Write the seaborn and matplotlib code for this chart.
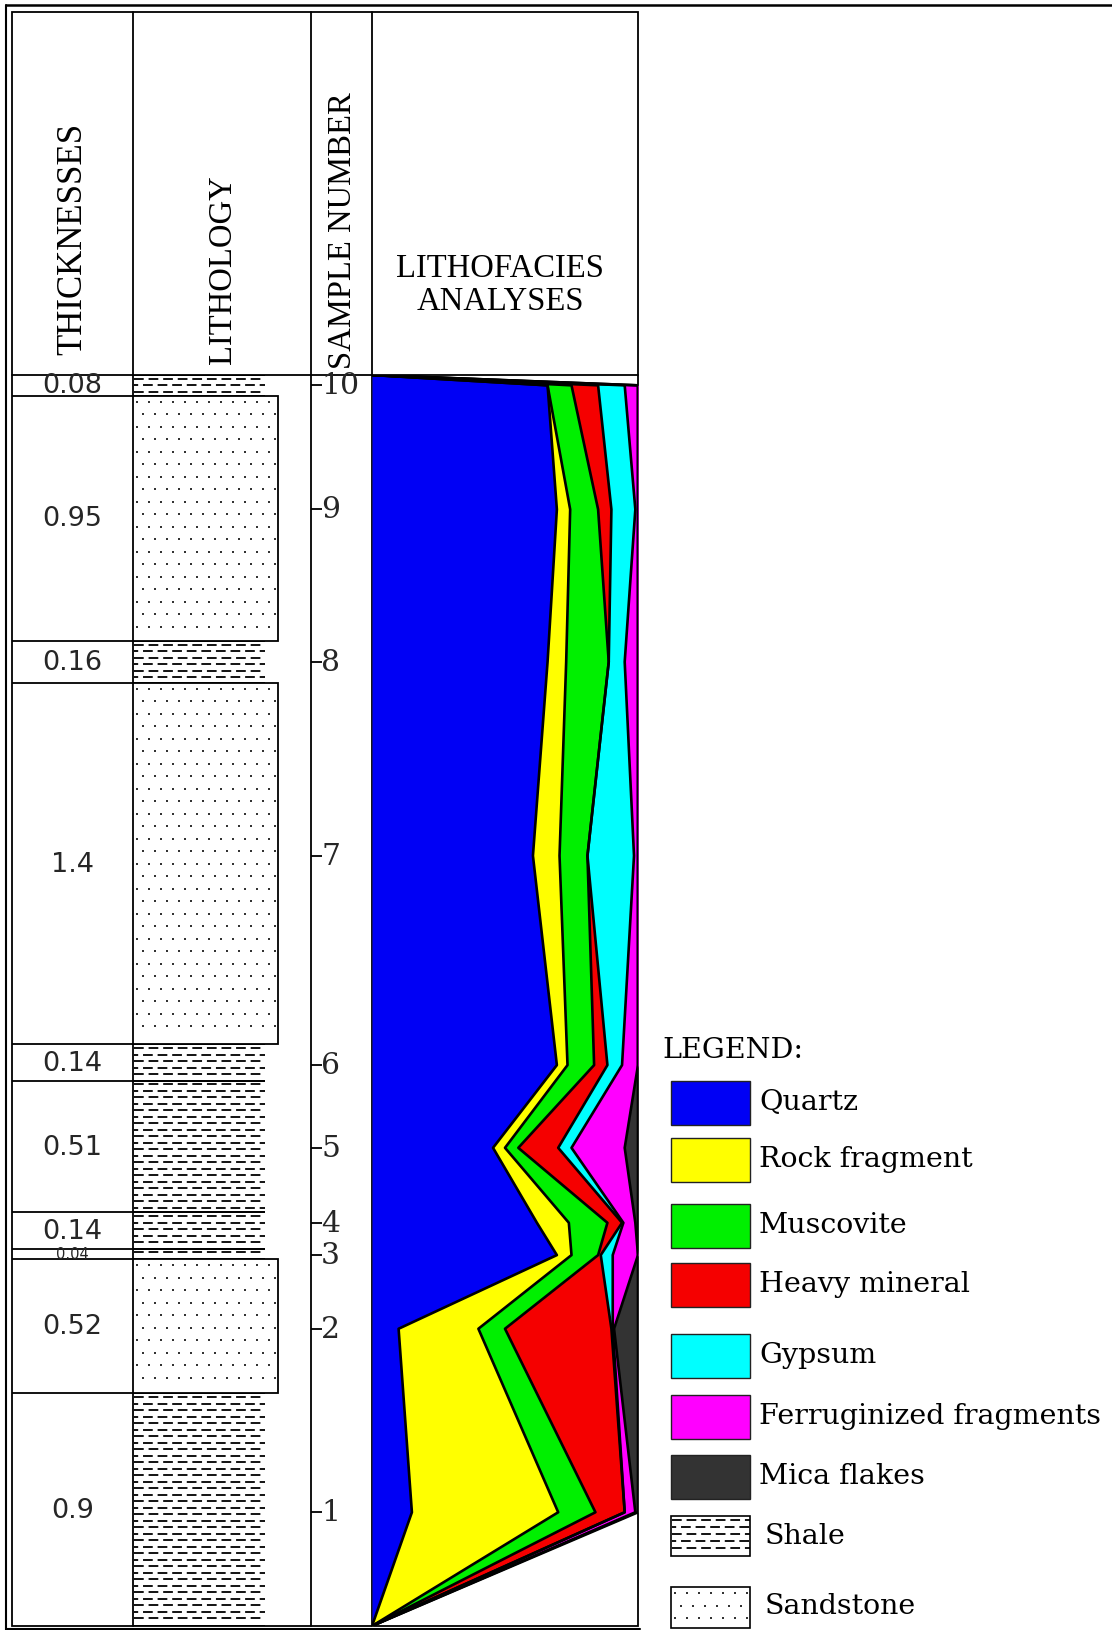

# Литологическая колонка с диаграммой литофаций (stacked area по образцам)

import numpy as np
import pandas as pd
import matplotlib
matplotlib.use("Agg")
import matplotlib.pyplot as plt
from matplotlib.patches import Rectangle
import seaborn as sns

# Мощности слоёв (сверху вниз), подписи и литология
thicknesses = [0.08, 0.95, 0.16, 1.4, 0.14, 0.51, 0.14, 0.04, 0.52, 0.9]
thickness_labels = ['0.08', '0.95', '0.16', '1.4', '0.14', '0.51', '0.14', '0.04', '0.52', '0.9']
lithology = ['Shale', 'Sandstone', 'Shale', 'Sandstone', 'Shale',
             'Shale', 'Shale', 'Shale', 'Sandstone', 'Shale']

# Номера образцов и их глубина от кровли разреза, м
sample_numbers = [10, 9, 8, 7, 6, 5, 4, 3, 2, 1]
sample_depth = [0.04, 0.52, 1.11, 1.86, 2.67, 2.99, 3.28, 3.405, 3.69, 4.40]

# Состав образцов, % (образцы 10 ... 1, сверху вниз)
quartz        = [66, 69.5, 66, 60.5, 69.5, 45.5, 62, 69.5, 10, 15]
rock_fragment = [0, 5, 7, 10, 4, 4.5, 12, 5.5, 30, 55]
muscovite     = [9, 10.5, 16, 10.5, 10, 5, 14.5, 10, 10, 14]
heavy_mineral = [10, 5, 0, 0, 5, 15, 5.5, 1, 40, 11]
gypsum        = [10, 9, 6, 17.5, 5.5, 5, 0.5, 4.5, 0.5, 0]
ferruginized  = [5, 1, 5, 1.5, 6, 20, 4.5, 9.5, 0.5, 4]
mica_flakes   = [0, 0, 0, 0, 0, 5, 1, 0, 9, 1]

components = ['Quartz', 'Rock fragment', 'Muscovite', 'Heavy mineral',
              'Gypsum', 'Ferruginized fragments', 'Mica flakes']
colors = ['#0000f5', '#ffff00', '#00f000', '#f50000', '#00ffff', '#ff00ff', '#333333']

W, H = 1112, 1631
TOP, BOTTOM = 376, 1627  # верх и низ колонки, px

sns.set_theme(style="white")
plt.rcParams['font.family'] = ['DejaVu Serif']
plt.rcParams['lines.scale_dashes'] = False

fig = plt.figure(figsize=(W / 100, H / 100), dpi=100)


def px_axes(x0, x1, y0, y1):
    ax = fig.add_axes([x0 / W, 1 - y1 / H, (x1 - x0) / W, (y1 - y0) / H])
    ax.set_facecolor('none')
    ax.set_axis_off()
    return ax


# Фоновые оси в пикселях: рамки, заголовки, легенда
bg = px_axes(0, W, 0, H)
bg.set_xlim(0, W)
bg.set_ylim(H, 0)

edges = np.concatenate([[0], np.cumsum(thicknesses)])
total = edges[-1]
layer_mid = (edges[:-1] + edges[1:]) / 2
py = total / (BOTTOM - TOP)  # глубина на 1 px


def sand_dots(ax, x0, x1, y0, y1, sy, step=12.5):
    n = int((y1 - y0) / sy / step)
    for i in range(n):
        yy = y0 + (i * step + step / 2) * sy
        xs = np.arange(x0 + 4 + (i % 2) * 6, x1 - 2, 12)
        ax.scatter(xs, np.full(len(xs), yy), s=3, marker='s', color='#333333', linewidths=0, zorder=3)


def shale_dashes(ax, x0, x1, y0, y1, sy, step=6.5):
    n = int((y1 - y0) / sy / step)
    for i in range(n):
        yy = y0 + (i * step + step / 2 + 0.5) * sy
        ax.hlines(yy, x0 + 1, x1, color='black', lw=1.3,
                  linestyles=[((i % 2) * 4, (7, 3.5))], zorder=3)


# Рамки
lw = 1.3
bg.plot([6, W], [6, 6], color='black', lw=1.8)
bg.plot([6, 6], [6, H], color='black', lw=1.5)
bg.plot([6, 640], [1630, 1630], color='black', lw=1.5)
bg.add_patch(Rectangle((12, 13), 626, BOTTOM - 13, fill=False, ec='black', lw=lw))
bg.plot([12, 638], [TOP, TOP], color='black', lw=lw)
for x in [133, 311, 372]:
    bg.plot([x, x], [13, BOTTOM], color='black', lw=lw)

# Заголовки колонок
hdr = dict(family=['Liberation Serif'], fontsize=23.5, color='black')
bg.text(73, 355, 'THICKNESSES', rotation=90, ha='center', va='bottom', fontsize=25,
        family=['Liberation Serif'], color='black')
bg.text(223, 364, 'LITHOLOGY', rotation=90, ha='center', va='bottom', **hdr)
bg.text(343, 369, 'SAMPLE NUMBER', rotation=90, ha='center', va='bottom', **hdr)
bg.text(500, 269, 'LITHOFACIES', ha='center', va='center', **hdr)
bg.text(500, 302, 'ANALYSES', ha='center', va='center', **hdr)

# Колонка мощностей
ax_t = px_axes(12, 133, TOP, BOTTOM)
ax_t.set_xlim(0, 1)
ax_t.set_ylim(total, 0)
ax_t.hlines(edges[1:-1], 0, 1, color='black', lw=lw)
for d, lab in zip(layer_mid, thickness_labels):
    fs = 10.5 if lab == '0.04' else 19.5
    ax_t.text(0.5, d, lab, ha='center', va='center', fontsize=fs, family=['DejaVu Sans'])

# Колонка литологии
ax_l = px_axes(133, 311, TOP, BOTTOM)
ax_l.set_xlim(0, 178)
ax_l.set_ylim(total, 0)
for top, bot, lith in zip(edges[:-1], edges[1:], lithology):
    if lith == 'Shale':
        shale_dashes(ax_l, 0, 132, top, bot, py)
        ax_l.hlines([top, bot], 0, 132, color='black', lw=lw)
for top, bot, lith in zip(edges[:-1], edges[1:], lithology):
    if lith == 'Sandstone':
        ax_l.add_patch(Rectangle((0, top), 145, bot - top, fc='white', ec='black', lw=lw, zorder=2))
        sand_dots(ax_l, 0, 145, top, bot, py)

# Номера образцов
ax_s = px_axes(311, 372, TOP, BOTTOM)
ax_s.set_xlim(0, 61)
ax_s.set_ylim(total, 0)
ax_s.hlines(sample_depth, 0, 11, color='black', lw=lw)
for d, n in zip(sample_depth, sample_numbers):
    ax_s.text(10, d, str(n), ha='left', va='center', fontsize=21.5)

# Диаграмма литофаций: на верхней и нижней границе колонки все доли = 0
ax_c = px_axes(372, 638, TOP, BOTTOM)
profile_depth = np.concatenate([[0], sample_depth, [total]])
series = [quartz, rock_fragment, muscovite, heavy_mineral, gypsum, ferruginized, mica_flakes]
left = np.zeros(len(profile_depth))
bounds = []
for vals, col in zip(series, colors):
    right = left + np.concatenate([[0], vals, [0]])
    ax_c.fill_betweenx(profile_depth, left, right, color=col, lw=0, zorder=1)
    bounds.append(right)
    left = right
for right in bounds:
    df = pd.DataFrame({'cum': right, 'depth': profile_depth})
    sns.lineplot(data=df, x='cum', y='depth', orient='y', sort=False, estimator=None,
                 color='black', lw=1.9, legend=False, ax=ax_c, zorder=2)
ax_c.set_xlim(0, 100)
ax_c.set_ylim(total, 0)
ax_c.set_axis_off()

# Легенда
leg_font = dict(family=['DejaVu Serif'], fontsize=20.5, color='black')
bg.text(662, 1051, 'LEGEND:', ha='left', va='center', **leg_font)
box_tops = [1082, 1139, 1205, 1264, 1335, 1396, 1456]
for name, col, y0 in zip(components, colors, box_tops):
    bg.add_patch(Rectangle((671, y0), 79, 44, fc=col, ec='#222222', lw=1.0))
    bg.text(759, y0 + 21, name, ha='left', va='center', **leg_font)
bg.add_patch(Rectangle((671, 1517), 79, 40, fc='white', ec='black', lw=1.2))
shale_dashes(bg, 671, 750, 1517, 1557, 1.0, step=7)
bg.text(765, 1537, 'Shale', ha='left', va='center', **leg_font)
bg.add_patch(Rectangle((671, 1588), 79, 41, fc='white', ec='black', lw=1.2))
sand_dots(bg, 671, 750, 1588, 1629, 1.0, step=12.5)
bg.text(765, 1607, 'Sandstone', ha='left', va='center', **leg_font)

fig.savefig('out.png', dpi=100)
